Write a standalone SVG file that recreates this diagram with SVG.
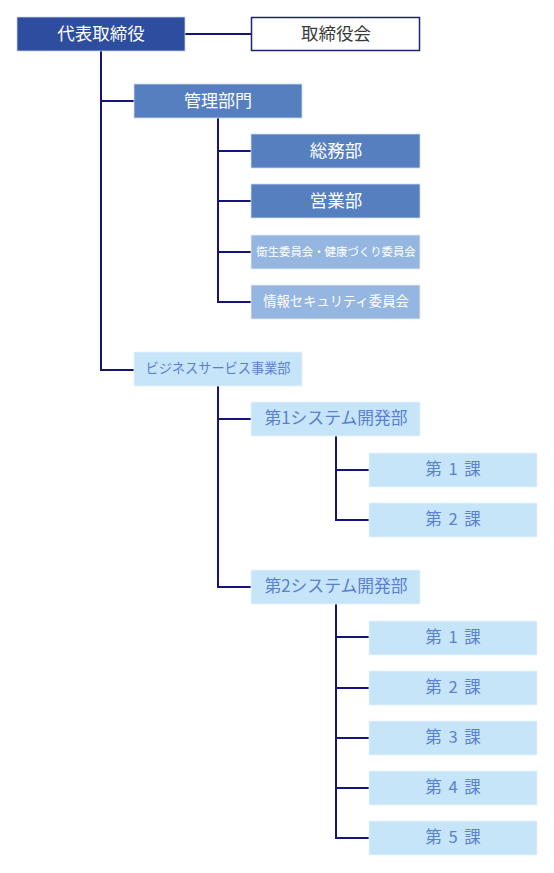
<svg xmlns="http://www.w3.org/2000/svg" width="554" height="873" viewBox="0 0 554 873">
<style>
text{font-family:"Noto Sans CJK JP","Noto Sans",sans-serif;text-anchor:middle;dominant-baseline:central}
.dark rect{fill:#2d4d9e;stroke:#c9d3ea;stroke-width:0.8}
.mid rect{fill:#567fc0;stroke:#d0dcef;stroke-width:0.8}
.soft rect{fill:#96b6e2;stroke:#e3ebf6;stroke-width:0.8}
.pale rect{fill:#c7e5f9;stroke:#e6f3fc;stroke-width:0.8}
.dark text,.mid text,.soft text{fill:#ffffff}
.pale text{fill:#5b80cc}
.ka{word-spacing:3px}
.line{fill:none;stroke:#14147a;stroke-width:2}
</style>
<g id="connectors">
<path class="line" d="M185 34H251"/>
<path class="line" d="M101 50V370H134M101 101H134"/>
<path class="line" d="M218 117V302H251M218 151H251M218 201H251M218 252H251"/>
<path class="line" d="M218 386V587H251M218 419H251"/>
<path class="line" d="M336 436V520H369M336 470H369"/>
<path class="line" d="M336 604V838H369M336 637H369M336 688H369M336 738H369M336 788H369"/>
</g>
<g id="ceo" class="dark"><rect x="17" y="17" width="168" height="34"/><text x="101" y="32" font-size="17.5">代表取締役</text></g>
<g id="board"><rect x="251.5" y="17.5" width="168" height="33" fill="#ffffff" stroke="#1c2470" stroke-width="1.5"/><text x="336" y="32" font-size="17.5" fill="#3a3a3a">取締役会</text></g>
<g id="kanri" class="mid"><rect x="134" y="84" width="168" height="34"/><text x="218" y="99" font-size="17">管理部門</text></g>
<g id="soumu" class="mid"><rect x="251" y="134" width="169" height="34"/><text x="336" y="149" font-size="17.5">総務部</text></g>
<g id="eigyo" class="mid"><rect x="251" y="184" width="169" height="34"/><text x="336" y="199" font-size="17.5">営業部</text></g>
<g id="eisei" class="soft"><rect x="251" y="235" width="169" height="34"/><text x="336" y="251" font-size="11.4">衛生委員会・健康づくり委員会</text></g>
<g id="joho" class="soft"><rect x="251" y="285" width="169" height="34"/><text x="336" y="300.5" font-size="13.3">情報セキュリティ委員会</text></g>
<g id="business" class="pale"><rect x="134" y="352" width="168" height="34"/><text x="218" y="367.5" font-size="13.2">ビジネスサービス事業部</text></g>
<g id="sys1" class="pale"><rect x="251" y="402" width="169" height="34"/><text x="336" y="417" font-size="16.8">第1システム開発部</text></g>
<g id="sys1-ka1" class="pale"><rect x="369" y="453" width="168" height="34"/><text class="ka" x="453" y="468" font-size="16.5">第 1 課</text></g>
<g id="sys1-ka2" class="pale"><rect x="369" y="503" width="168" height="34"/><text class="ka" x="453" y="518" font-size="16.5">第 2 課</text></g>
<g id="sys2" class="pale"><rect x="251" y="570" width="169" height="34"/><text x="336" y="585" font-size="16.8">第2システム開発部</text></g>
<g id="sys2-ka1" class="pale"><rect x="369" y="621" width="168" height="34"/><text class="ka" x="453" y="636" font-size="16.5">第 1 課</text></g>
<g id="sys2-ka2" class="pale"><rect x="369" y="671" width="168" height="34"/><text class="ka" x="453" y="686" font-size="16.5">第 2 課</text></g>
<g id="sys2-ka3" class="pale"><rect x="369" y="721" width="168" height="34"/><text class="ka" x="453" y="736" font-size="16.5">第 3 課</text></g>
<g id="sys2-ka4" class="pale"><rect x="369" y="771" width="168" height="34"/><text class="ka" x="453" y="786" font-size="16.5">第 4 課</text></g>
<g id="sys2-ka5" class="pale"><rect x="369" y="821" width="168" height="34"/><text class="ka" x="453" y="836" font-size="16.5">第 5 課</text></g>
</svg>
